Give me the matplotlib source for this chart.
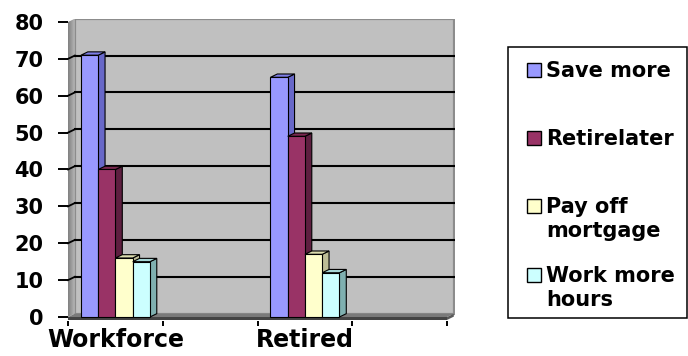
import numpy as np
import matplotlib
matplotlib.use("Agg")
import matplotlib.pyplot as plt
from matplotlib.patches import Polygon, Rectangle

# ---- data -------------------------------------------------------------
categories = ["Workforce", "Retired"]
category_slots = [0, 2]          # the category axis has four slots
n_slots = 4
series_names = ["Save more", "Retirelater", "Pay off\nmortgage", "Work more\nhours"]
save_more = [71, 65]
retire_later = [40, 49]
pay_off_mortgage = [16, 17]
work_more_hours = [15, 12]
y_ticks = [0, 10, 20, 30, 40, 50, 60, 70, 80]

series_values = [save_more, retire_later, pay_off_mortgage, work_more_hours]

# ---- style ------------------------------------------------------------
face_colors = ["#9999FF", "#993366", "#FFFFCC", "#CCFFFF"]
side_colors = ["#6868C8", "#5E1F40", "#BDBD96", "#7FB0B0"]
top_colors = ["#7E7EE6", "#7A2850", "#DCDCAE", "#A6D6D6"]
wall_color = "#C0C0C0"
dx, dy = 0.072, 0.9               # depth offset of the pseudo-3D faces
bar_w = 0.182
group_left = -0.363

plt.rcParams["font.family"] = ["DejaVu Sans"]
plt.rcParams["font.weight"] = "bold"

W, H = 688, 356
fig = plt.figure(figsize=(W / 100, H / 100), dpi=100)

# plot area in pixel coordinates
px_per_x = 94.75
x_lo, x_hi = -0.53, 3.5 + dx + 0.01
y_lo, y_hi = -1.0, 80 + dy
left_px = 68 + (x_lo + 0.5) * px_per_x
right_px = 447 + (x_hi - 3.5) * px_per_x
px_per_y = (317 - 22) / 80
bottom_px = 317 - y_lo * px_per_y
top_px = 22 - (y_hi - 80) * px_per_y
ax = fig.add_axes([left_px / W, 1 - bottom_px / H,
                   (right_px - left_px) / W, (bottom_px - top_px) / H])
ax.set_xlim(x_lo, x_hi)
ax.set_ylim(y_lo, y_hi)
ax.patch.set_visible(False)
for s in ax.spines.values():
    s.set_visible(False)

x0, x1 = -0.5, n_slots - 0.5

# back wall
ax.add_patch(Rectangle((x0 + dx, dy), x1 - x0, 80, facecolor=wall_color,
                       edgecolor="#8C8C8C", lw=1.6, zorder=0))

# left wall with a shading gradient
grad = np.linspace(0.50, 0.72, 64)[None, :]
img = ax.imshow(grad, extent=[x0, x0 + dx, 0, 80 + dy], cmap="gray",
                vmin=0, vmax=1, aspect="auto", zorder=0.5, interpolation="bilinear")
lw_poly = Polygon([(x0, 0), (x0 + dx, dy), (x0 + dx, 80 + dy), (x0, 80)],
                  closed=True, facecolor="none", edgecolor="none")
ax.add_patch(lw_poly)
img.set_clip_path(lw_poly)
ax.set_xlim(x_lo, x_hi)
ax.set_ylim(y_lo, y_hi)

# gridlines on the back and left walls
for v in y_ticks[1:-1]:
    ax.plot([x0 + dx, x1 + dx], [v + dy, v + dy], color="black", lw=1.5, zorder=1)
    ax.plot([x0, x0 + dx], [v, v + dy], color="black", lw=1.3, zorder=1)

# floor
ax.add_patch(Polygon([(x0, 0), (x1, 0), (x1 + dx, dy), (x0 + dx, dy)],
                     closed=True, facecolor="#7A7A7A", edgecolor="none", zorder=1.2))
ax.add_patch(Rectangle((x0, -0.8), x1 - x0, 0.8, facecolor="#444444",
                       edgecolor="none", zorder=1.2))
ax.add_patch(Polygon([(x1, -0.8), (x1 + dx, -0.8 + dy), (x1 + dx, dy), (x1, 0)],
                     closed=True, facecolor="#5A5A5A", edgecolor="none", zorder=1.2))

# bars with side and top faces
slots = np.array(category_slots, dtype=float)
for i, vals in enumerate(series_values):
    z = 2 + i * 0.1
    xs = slots + group_left + i * bar_w
    bars = ax.bar(xs, vals, width=bar_w, align="edge", color=face_colors[i],
                  edgecolor="black", linewidth=0.8, zorder=z + 0.02)
    for r in bars:
        bx, bw, bh = r.get_x(), r.get_width(), r.get_height()
        ax.add_patch(Polygon([(bx + bw, 0), (bx + bw + dx, dy), (bx + bw + dx, bh + dy),
                              (bx + bw, bh)], closed=True, facecolor=side_colors[i],
                             edgecolor="black", lw=0.8, zorder=z))
        ax.add_patch(Polygon([(bx, bh), (bx + bw, bh), (bx + bw + dx, bh + dy),
                              (bx + dx, bh + dy)], closed=True, facecolor=top_colors[i],
                             edgecolor="black", lw=0.8, zorder=z + 0.01))

# value axis
ax.spines["left"].set_position(("data", x0))
ax.set_yticks(y_ticks)
ax.set_yticklabels([str(t) for t in y_ticks])
ax.tick_params(axis="y", length=7.2, width=1.4, pad=10.5, labelsize=15)

# category axis
ax.set_xticks(category_slots)
ax.set_xticklabels(categories)
ax.set_xticks(np.arange(n_slots + 1) - 0.5, minor=True)
ax.tick_params(axis="x", which="major", length=0, pad=5, labelsize=17)
ax.tick_params(axis="x", which="minor", length=3.6, width=1.4)

# legend box
lax = fig.add_axes([0, 0, 1, 1])
lax.set_xlim(0, W)
lax.set_ylim(H, 0)
lax.axis("off")
lax.add_patch(Rectangle((508, 47), 179, 271, facecolor="white",
                        edgecolor="black", lw=1.1))
baselines = [77, 145, 213, 282]
for name, col, base in zip(series_names, face_colors, baselines):
    lax.add_patch(Rectangle((527, base - 14), 13.5, 13.5, facecolor=col,
                            edgecolor="black", lw=1.0))
    for k, line in enumerate(name.split("\n")):
        lax.text(546, base + 24 * k, line, fontsize=15, fontweight="bold",
                 ha="left", va="baseline")

fig.savefig("out.png", dpi=100)
